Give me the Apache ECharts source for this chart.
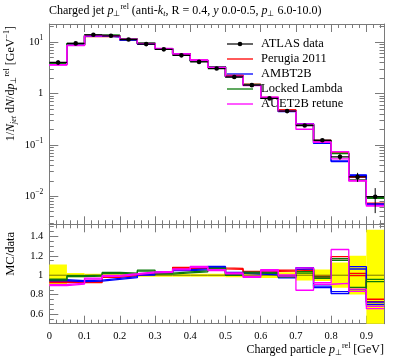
<!DOCTYPE html>
<html><head><meta charset="utf-8">
<script src="https://cdn.jsdelivr.net/npm/echarts@6/dist/echarts.min.js"></script>
<style>html,body{margin:0;padding:0;background:#fff}#c{width:397px;height:358px}</style>
</head><body><div id="c"></div>
<script>
// ---- data ----
const binEdges = [0,0.05,0.1,0.15,0.2,0.25,0.3,0.35,0.4,0.45,0.5,0.55,0.6,0.65,0.7,0.75,0.8,0.85,0.9,0.95];
const dataValues = [4.0,9.4,13.8,13.2,11.2,9.1,7.2,5.5,4.1,3.05,2.09,1.45,0.80,0.453,0.238,0.123,0.0585,0.0238,0.0098];
const dataErrHi = [0.11,0.022,0.015,0.015,0.015,0.015,0.015,0.015,0.015,0.015,0.02,0.025,0.03,0.03,0.055,0.06,0.13,0.2,0.47];
const dataErrLo = [0.11,0.022,0.015,0.015,0.015,0.015,0.015,0.015,0.015,0.015,0.02,0.025,0.03,0.03,0.055,0.06,0.13,0.2,0.52];
const perugiaRatio = [0.928,0.93,0.93,0.983,1.0,1.017,1.028,1.076,1.076,1.07,1.065,1.034,1.045,1.048,1.06,0.98,1.182,1.007,0.74];
const perugiaErr   = [0.005,0.005,0.005,0.005,0.005,0.005,0.005,0.005,0.005,0.005,0.005,0.005,0.006,0.006,0.008,0.008,0.01,0.012,0.012];
const ambtRatio = [0.948,0.94,0.945,0.962,0.98,1.007,1.03,1.052,1.06,1.086,1.024,1.017,1.01,0.979,1.07,0.88,0.82,1.076,0.71];
const ambtErr   = [0.005,0.005,0.005,0.005,0.005,0.005,0.005,0.005,0.005,0.005,0.005,0.005,0.006,0.006,0.008,0.008,0.01,0.012,0.012];
const lockedRatio = [0.955,0.99,0.995,1.024,1.017,1.048,1.017,1.03,1.04,1.069,1.003,1.027,1.024,0.99,1.03,0.975,1.162,0.863,0.945];
const lockedErr   = [0.005,0.005,0.005,0.005,0.005,0.005,0.005,0.005,0.005,0.005,0.005,0.005,0.006,0.006,0.008,0.008,0.01,0.012,0.012];
const auetRatio = [0.897,0.914,0.965,0.993,1.01,1.03,1.034,1.06,1.086,1.052,1.02,0.983,1.052,0.997,0.96,0.915,1.09,0.845,0.667];
const auetErr   = [0.005,0.005,0.005,0.005,0.005,0.005,0.005,0.005,0.005,0.005,0.005,0.005,0.006,0.006,0.115,0.008,0.175,0.012,0.012];
const xTickValues = [0,0.1,0.2,0.3,0.4,0.5,0.6,0.7,0.8,0.9];
const xTickLabels = ['0','0.1','0.2','0.3','0.4','0.5','0.6','0.7','0.8','0.9'];
const xMinorTicks = [0.02,0.04,0.06,0.08,0.12,0.14,0.16,0.18,0.22,0.24,0.26,0.28,0.32,0.34,0.36,0.38,0.42,0.44,0.46,0.48,0.52,0.54,0.56,0.58,0.62,0.64,0.66,0.68,0.72,0.74,0.76,0.78,0.82,0.84,0.86,0.88,0.92,0.94];
const logTickValues = [0.01,0.1,1,10];
const logTickLabels = ['{n|10}{s|\u22122}','{n|10}{s|\u22121}','{n|1}','{n|10}{s|1}'];
const logMinorTicks = [0.003,0.004,0.005,0.006,0.007,0.008,0.009,0.02,0.03,0.04,0.05,0.06,0.07,0.08,0.09,0.2,0.3,0.4,0.5,0.6,0.7,0.8,0.9,2,3,4,5,6,7,8,9,20];
const ratioTickValues = [0.6,0.8,1,1.2,1.4];
const ratioTickLabels = ['0.6','0.8','1','1.2','1.4'];
const ratioMinorTicks = [0.55,0.65,0.7,0.75,0.85,0.9,0.95,1.05,1.1,1.15,1.25,1.3,1.35,1.45,1.5];
const legendNames = ['ATLAS data','Perugia 2011','AMBT2B','Locked Lambda','AUET2B retune'];

// ---- setup ----
const FF = 'Liberation Serif';
const frameColor = '#7a7a7a';
const tickColor = '#7a7a7a';
const N = dataValues.length;
const mcDefs = [
  {name:'Perugia 2011', color:'#ff0000', ratio:perugiaRatio, err:perugiaErr},
  {name:'AMBT2B', color:'#0000ff', ratio:ambtRatio, err:ambtErr},
  {name:'Locked Lambda', color:'#0a7a0a', ratio:lockedRatio, err:lockedErr},
  {name:'AUET2B retune', color:'#ff00ff', ratio:auetRatio, err:auetErr}
];
const MAIN_MIN = 0.00285, MAIN_MAX = 22.4, R_MIN = 0.5, R_MAX = 1.525;
const chart = echarts.init(document.getElementById('c'), null, {renderer:'canvas'});

function stepPts(vals){ return binEdges.map((x,i)=>[x, vals[Math.min(i,N-1)]]); }

const supRich = {
  n:{fontSize:10.5, fontFamily:FF, color:'#000'},
  s:{fontSize:7.5, fontFamily:FF, color:'#000', padding:[0,0,8,0]}
};
function xAxes(grid, labels){
  const c = {type:'value', gridIndex:grid, min:0, max:0.95, splitLine:{show:false}};
  const tl = {color:tickColor, width:1};
  return [
    Object.assign({}, c, {position:'bottom', axisLine:{show:true, onZero:false, lineStyle:{color:frameColor}},
      axisTick:{show:true, inside:true, length:8, customValues:xTickValues, lineStyle:tl},
      axisLabel: labels ? {show:true, customValues:xTickValues, margin:7, color:'#000', fontFamily:FF, fontSize:10.5,
        formatter:v=>{const k=xTickValues.findIndex(t=>Math.abs(t-v)<1e-9); return k>=0?xTickLabels[k]:'';}} : {show:false}}),
    Object.assign({}, c, {position:'bottom', axisLine:{show:false, onZero:false},
      axisTick:{show:true, inside:true, length:4, customValues:xMinorTicks, lineStyle:tl}, axisLabel:{show:false}}),
    Object.assign({}, c, {position:'top', axisLine:{show:true, onZero:false, lineStyle:{color:frameColor}},
      axisTick:{show:true, inside:true, length:8, customValues:xTickValues, lineStyle:tl}, axisLabel:{show:false}}),
    Object.assign({}, c, {position:'top', axisLine:{show:false, onZero:false},
      axisTick:{show:true, inside:true, length:4, customValues:xMinorTicks, lineStyle:tl}, axisLabel:{show:false}})
  ];
}
function yAxes(grid, type, min, max, majors, minors, fmt){
  const c = {type:type, gridIndex:grid, min:min, max:max, splitLine:{show:false}};
  if (type==='log') c.logBase = 10;
  const tl = {color:tickColor, width:1};
  return [
    Object.assign({}, c, {position:'left', axisLine:{show:true, onZero:false, lineStyle:{color:frameColor}},
      axisTick:{show:true, inside:true, length:9, customValues:majors, lineStyle:tl},
      axisLabel:{show:true, customValues:majors, margin:6, color:'#000', fontFamily:FF, fontSize:10.5, formatter:fmt, rich:supRich}}),
    Object.assign({}, c, {position:'left', axisLine:{show:false, onZero:false},
      axisTick:{show:true, inside:true, length:4.5, customValues:minors, lineStyle:tl}, axisLabel:{show:false}}),
    Object.assign({}, c, {position:'right', axisLine:{show:true, onZero:false, lineStyle:{color:frameColor}},
      axisTick:{show:true, inside:true, length:9, customValues:majors, lineStyle:tl}, axisLabel:{show:false}}),
    Object.assign({}, c, {position:'right', axisLine:{show:false, onZero:false},
      axisTick:{show:true, inside:true, length:4.5, customValues:minors, lineStyle:tl}, axisLabel:{show:false}})
  ];
}
const logFmt = v=>{const k=logTickValues.findIndex(t=>Math.abs(Math.log10(t)-Math.log10(v))<1e-6); return k>=0?logTickLabels[k]:'';};
const ratioFmt = v=>{const k=ratioTickValues.findIndex(t=>Math.abs(t-v)<1e-9); return k>=0?ratioTickLabels[k]:'';};

const series = [];
// yellow data band in ratio
series.push({type:'custom', xAxisIndex:4, yAxisIndex:4, clip:true, silent:true, z:1,
  encode:{x:0, y:2},
  data: dataValues.map((v,i)=>[binEdges[i], binEdges[i+1], 1-dataErrLo[i], 1+dataErrHi[i]]),
  renderItem:(p,api)=>{
    const a = api.coord([api.value(0), api.value(3)]);
    const b = api.coord([api.value(1), api.value(2)]);
    return {type:'rect', shape:{x:a[0], y:a[1], width:b[0]-a[0], height:b[1]-a[1]}, style:{fill:'#ffff00'}};
  }});
// reference line (data / data)
series.push({type:'custom', xAxisIndex:4, yAxisIndex:4, clip:true, silent:true, z:2,
  encode:{x:0, y:2},
  data: dataValues.map((v,i)=>[binEdges[i], binEdges[i+1], 1]),
  renderItem:(p,api)=>{
    const a = api.coord([api.value(0), api.value(2)]);
    const b = api.coord([api.value(1), api.value(2)]);
    return {type:'line', shape:{x1:a[0], y1:a[1], x2:b[0], y2:b[1]}, style:{stroke:'#000', lineWidth:1, opacity:0.55}};
  }});
// MC lines
mcDefs.forEach((m, j)=>{
  const up = m.ratio.map((r,i)=>r + m.err[i]);
  const lo = m.ratio.map((r,i)=>r - m.err[i]);
  [up, lo].forEach(arr=>{
    series.push({type:'line', name:m.name, xAxisIndex:0, yAxisIndex:0, step:'end', symbol:'none', silent:true, z:3+j, clip:true,
      data: stepPts(arr.map((r,i)=>r*dataValues[i])), lineStyle:{color:m.color, width:1.3}});
    series.push({type:'line', name:m.name, xAxisIndex:4, yAxisIndex:4, step:'end', symbol:'none', silent:true, z:3+j, clip:true,
      data: stepPts(arr), lineStyle:{color:m.color, width:1.3}});
  });
});
// ATLAS data points
series.push({type:'custom', name:'ATLAS data', xAxisIndex:0, yAxisIndex:0, clip:true, silent:true, z:10,
  encode:{x:2, y:3},
  data: dataValues.map((v,i)=>[binEdges[i], binEdges[i+1], (binEdges[i]+binEdges[i+1])/2, v, v*(1-dataErrLo[i]), v*(1+dataErrHi[i])]),
  renderItem:(p,api)=>{
    const l = api.coord([api.value(0), api.value(3)]);
    const r = api.coord([api.value(1), api.value(3)]);
    const c = api.coord([api.value(2), api.value(3)]);
    const lo = api.coord([api.value(2), api.value(4)]);
    const hi = api.coord([api.value(2), api.value(5)]);
    return {type:'group', children:[
      {type:'line', shape:{x1:l[0], y1:l[1], x2:r[0], y2:r[1]}, style:{stroke:'#000', lineWidth:1.3}},
      {type:'line', shape:{x1:c[0], y1:lo[1], x2:c[0], y2:hi[1]}, style:{stroke:'#000', lineWidth:1}},
      {type:'circle', shape:{cx:c[0], cy:c[1], r:2.3}, style:{fill:'#000'}}
    ]};
  }});

// legend and texts
const tRich = {
  i:{fontStyle:'italic', fontFamily:FF, fontSize:12},
  s:{fontSize:8, fontFamily:FF, padding:[0,0,9,0]},
  si:{fontSize:8, fontFamily:FF, fontStyle:'italic', padding:[6,0,0,0]},
  b:{fontSize:8, fontFamily:FF, padding:[6,0,0,0]}
};
const legendColors = ['#000','#ff0000','#0000ff','#0a7a0a','#ff00ff'];
const graphics = [];
legendNames.forEach((nm,i)=>{
  const y = 44 + 15*i;
  graphics.push({type:'line', shape:{x1:227, y1:y, x2:253, y2:y}, style:{stroke:legendColors[i], lineWidth:i===0?1.2:1.3}, silent:true});
  if (i===0) graphics.push({type:'circle', shape:{cx:240, cy:y, r:2.3}, style:{fill:'#000'}, silent:true});
  graphics.push({type:'text', x:261, y:y, style:{text:nm, fontFamily:FF, fontSize:12.5, fill:'#000', verticalAlign:'middle', align:'left'}, silent:true});
});
graphics.push({type:'text', x:49, y:11, silent:true, style:{
  text:'Charged jet {i|p}{b|\u22a5}{s|rel} (anti-{i|k}{si|t}, R = 0.4, {i|y} 0.0-0.5, {i|p}{b|\u22a5} 6.0-10.0)',
  rich:tRich, fontFamily:FF, fontSize:12, fill:'#000', verticalAlign:'middle', align:'left'}});
graphics.push({type:'text', x:11, y:26, rotation:Math.PI/2, silent:true, style:{
  text:'1/{i|N}{si|jet} d{i|N}/d{i|p}{b|\u22a5}{s|rel} [GeV{s|\u22121}]',
  rich:tRich, fontFamily:FF, fontSize:12, fill:'#000', verticalAlign:'middle', align:'right'}});
graphics.push({type:'text', x:11, y:232, rotation:Math.PI/2, silent:true, style:{
  text:'MC/data', fontFamily:FF, fontSize:12.5, fill:'#000', verticalAlign:'middle', align:'right'}});
graphics.push({type:'text', x:384, y:350, silent:true, style:{
  text:'Charged particle {i|p}{b|\u22a5}{s|rel} [GeV]',
  rich:tRich, fontFamily:FF, fontSize:12, fill:'#000', verticalAlign:'middle', align:'right'}});

chart.setOption({
  animation:false,
  backgroundColor:'#fff',
  grid:[
    {left:49.3, top:24, width:334.7, height:200.3, outerBoundsMode:'none', containLabel:false},
    {left:49.3, top:224.3, width:334.7, height:99.4, outerBoundsMode:'none', containLabel:false}
  ],
  xAxis: xAxes(0,false).concat(xAxes(1,true)),
  yAxis: yAxes(0,'log',MAIN_MIN,MAIN_MAX,logTickValues,logMinorTicks,logFmt)
    .concat(yAxes(1,'value',R_MIN,R_MAX,ratioTickValues,ratioMinorTicks,ratioFmt)),
  series: series,
  graphic: graphics
});
</script></body></html>
